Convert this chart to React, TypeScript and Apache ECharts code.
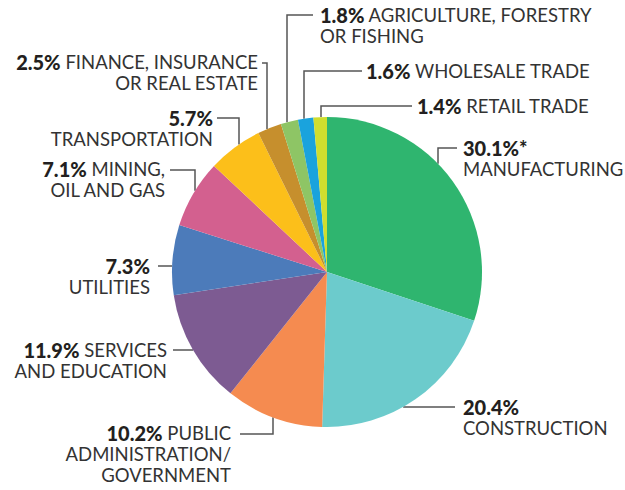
import React, { useEffect, useRef } from "react";
import * as echarts from "echarts";

// Data
const categories = [
  "Manufacturing",
  "Construction",
  "Public administration/government",
  "Services and education",
  "Utilities",
  "Mining, oil and gas",
  "Transportation",
  "Finance, insurance or real estate",
  "Agriculture, forestry or fishing",
  "Wholesale trade",
  "Retail trade",
];
const values = [30.1, 20.4, 10.2, 11.9, 7.3, 7.1, 5.7, 2.5, 1.8, 1.6, 1.4];
const percentLabels = ["30.1%*", "20.4%", "10.2%", "11.9%", "7.3%", "7.1%", "5.7%", "2.5%", "1.8%", "1.6%", "1.4%"];
// First-line text after the percentage ("" = percentage alone on first line), then following lines
const labelFirstLine = ["", "", " PUBLIC", " SERVICES", "", " MINING,", "", " FINANCE, INSURANCE", " AGRICULTURE, FORESTRY", " WHOLESALE TRADE", " RETAIL TRADE"];
const labelMoreLines = [
  ["MANUFACTURING"],
  ["CONSTRUCTION"],
  ["ADMINISTRATION/", "GOVERNMENT"],
  ["AND EDUCATION"],
  ["UTILITIES"],
  ["OIL AND GAS"],
  ["TRANSPORTATION"],
  ["OR REAL ESTATE"],
  ["OR FISHING"],
  [],
  [],
];

// Styles
const palette = ["#2fb56f", "#6ccbcc", "#f58b50", "#7d5b92", "#4c7bba", "#d3608f", "#fcbf1a", "#c68f2d", "#8ec565", "#1aa3dd", "#d0de2e"];

// Layout
const W = 625;
const H = 490;
const CX = 327;
const CY = 272;
const R = 155;
const LH = 21;

const topY = (x: number) => CY - Math.sqrt(R * R - (x - CX) * (x - CX));
const bottomY = (x: number) => CY + Math.sqrt(R * R - (x - CX) * (x - CX));
const leftX = (y: number) => CX - Math.sqrt(R * R - (y - CY) * (y - CY));
const rightX = (y: number) => CX + Math.sqrt(R * R - (y - CY) * (y - CY));

type Lead = { pts: number[][]; x: number; y: number; align: "left" | "right" };
const leaders: Lead[] = [
  { pts: [[438, topY(438)], [438, 148], [457, 148]], x: 463, y: 148, align: "left" },
  { pts: [[rightX(407), 407], [455, 407]], x: 463, y: 407, align: "left" },
  { pts: [[273, bottomY(273)], [273, 434], [240, 434]], x: 231, y: 433, align: "right" },
  { pts: [[leftX(350), 350], [173, 350]], x: 167, y: 350, align: "right" },
  { pts: [[leftX(266), 266], [158, 266]], x: 150, y: 266, align: "right" },
  { pts: [[195, topY(195)], [195, 170], [170, 170]], x: 165, y: 169, align: "right" },
  { pts: [[239, topY(239)], [239, 118], [217, 118]], x: 213, y: 118, align: "right" },
  { pts: [[267, topY(267)], [267, 63], [262, 63]], x: 258, y: 62, align: "right" },
  { pts: [[287, topY(287)], [287, 15], [313, 15]], x: 320, y: 15, align: "left" },
  { pts: [[304, topY(304)], [304, 71], [362, 71]], x: 366, y: 71, align: "left" },
  { pts: [[321, topY(321)], [321, 106], [412, 106]], x: 417, y: 106, align: "left" },
];

export default function App() {
  const ref = useRef<HTMLDivElement>(null);
  useEffect(() => {
    document.body.style.margin = "0";
    if (!ref.current) return;
    const chart = echarts.init(ref.current, undefined, { renderer: "svg" });
    const data = categories.map((name, i) => ({
      name,
      value: values[i],
      itemStyle: { color: palette[i] },
    }));
    chart.setOption({
      animation: false,
      backgroundColor: "#ffffff",
      series: [
        {
          type: "pie",
          center: [CX, CY],
          radius: R,
          startAngle: 90,
          clockwise: true,
          avoidLabelOverlap: false,
          data,
          itemStyle: { borderWidth: 0 },
          emphasis: { disabled: true },
          label: {
            show: true,
            position: "outside",
            fontFamily: "Lato",
            fontSize: 18.5,
            color: "#333333",
            lineHeight: LH,
            formatter: (p: any) => {
              const i = p.dataIndex;
              const lines = ["{b|" + percentLabels[i] + "}" + labelFirstLine[i], ...labelMoreLines[i]];
              return lines.join("\n");
            },
            rich: {
              b: {
                fontFamily: "Lato",
                fontSize: 20,
                fontWeight: 900,
                color: "#231f20",
                lineHeight: LH,
              },
            },
          },
          labelLine: {
            show: true,
            length: 10,
            length2: 10,
            lineStyle: { color: "#555555", width: 1.5 },
          },
          labelLayout: (params: any) => {
            const l = leaders[params.dataIndex];
            return {
              x: l.x,
              y: l.y - LH / 2,
              align: l.align,
              verticalAlign: "top",
              rotate: 0,
              labelLinePoints: l.pts,
            };
          },
        },
      ],
    });
    return () => chart.dispose();
  }, []);
  return <div ref={ref} style={{ width: W, height: H }} />;
}
